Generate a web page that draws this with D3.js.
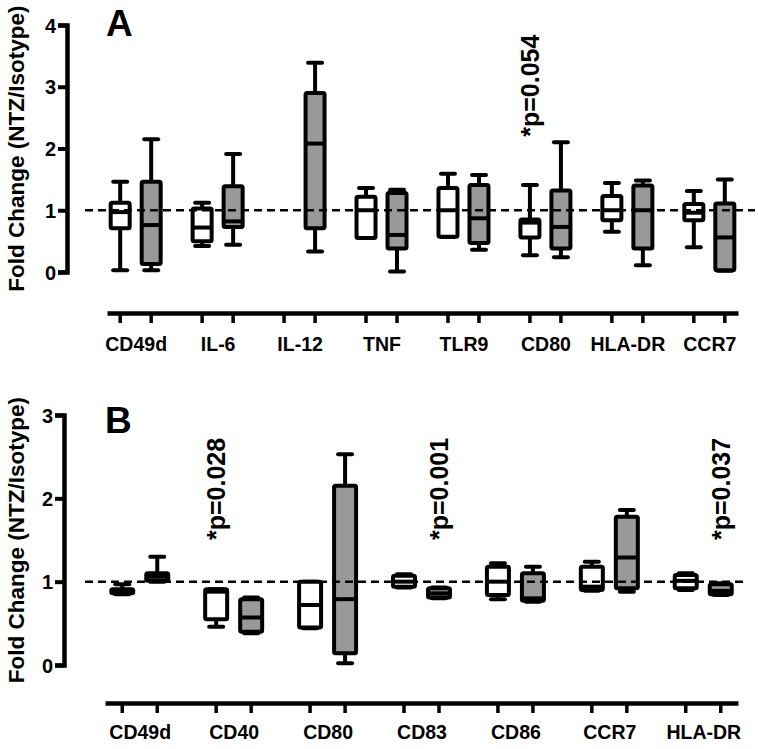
<!DOCTYPE html>
<html><head><meta charset="utf-8">
<script src="https://cdn.jsdelivr.net/npm/d3@7"></script>
<style>
html,body{margin:0;padding:0;background:#fff;}
svg text{font-family:"Liberation Sans",Arial,sans-serif;font-weight:bold;fill:#000;}
</style></head>
<body><svg id="c" width="758" height="749"></svg>
<script>
// ---------- DATA ----------
// five-number summaries: [min, q1, median, q3, max]
const categoriesA = ["CD49d","IL-6","IL-12","TNF","TLR9","CD80","HLA-DR","CCR7"];
const isotypeA = [
  [0.03,0.71,0.97,1.12,1.46],
  [0.42,0.50,0.72,1.03,1.12],
  null,
  [0.55,0.55,1.00,1.22,1.36],
  [0.57,0.57,1.00,1.36,1.59],
  [0.27,0.56,0.80,0.85,1.41],
  [0.65,0.84,1.00,1.23,1.44],
  [0.40,0.84,0.96,1.10,1.31]
];
const ntzA = [
  [0.03,0.13,0.76,1.46,2.15],
  [0.44,0.73,0.82,1.39,1.91],
  [0.33,0.71,2.08,2.90,3.39],
  [0.01,0.38,0.60,1.28,1.33],
  [0.36,0.47,0.87,1.41,1.57],
  [0.24,0.38,0.73,1.32,2.10],
  [0.11,0.38,1.00,1.40,1.48],
  [0.02,0.03,0.56,1.11,1.50]
];
const yTicksA = [0,1,2,3,4];
const annotA = [{cat:"CD80", series:0, y:2.19, text:"*p=0.054"}];

const categoriesB = ["CD49d","CD40","CD80","CD83","CD86","CCR7","HLA-DR"];
const isotypeB = [
  [0.85,0.86,0.88,0.91,0.97],
  [0.46,0.55,0.88,0.91,0.91],
  [0.44,0.45,0.72,1.00,1.00],
  [0.93,0.94,1.00,1.07,1.09],
  [0.79,0.84,1.00,1.18,1.22],
  [0.89,0.90,0.94,1.18,1.24],
  [0.90,0.92,1.01,1.08,1.10]
];
const ntzB = [
  [1.00,1.01,1.06,1.10,1.30],
  [0.38,0.40,0.57,0.79,0.81],
  [0.02,0.14,0.79,2.15,2.53],
  [0.80,0.81,0.86,0.92,0.93],
  [0.76,0.77,0.80,1.10,1.18],
  [0.88,0.92,1.29,1.78,1.86],
  [0.84,0.85,0.89,0.97,0.98]
];
const yTicksB = [0,1,2,3];
const annotB = [
  {cat:"CD40", series:0, y:1.5, text:"*p=0.028"},
  {cat:"CD83", series:1, y:1.5, text:"*p=0.001"},
  {cat:"HLA-DR", series:1, y:1.5, text:"*p=0.037"}
];
const seriesFill = ["#ffffff","#999999"];
const refValue = 1;
const yTitle = "Fold Change (NTZ/Isotype)";

// ---------- DRAW ----------
const svg = d3.select("#c");

function panel(o){
  const g = svg.append("g");
  const y = d3.scaleLinear().domain(o.yDomain).range(o.yRange);
  const x = d3.scalePoint().domain(o.cats).range(o.xRange).padding(o.pad);
  const xs = d3.scalePoint().domain([0,1]).range([-o.off, o.off]);
  const bw = o.bw, cap = 14, sw = 4;

  // y axis
  const ya = g.append("g").attr("transform",`translate(${o.yAxisX},0)`)
    .call(d3.axisLeft(y).tickValues(o.yTicks).tickFormat(d3.format("d")).tickSizeOuter(0).tickSize(9).tickPadding(2));
  ya.select(".domain").attr("stroke-width",4.5).attr("stroke","#000");
  ya.selectAll(".tick line").attr("stroke-width",4).attr("stroke","#000");
  ya.selectAll(".tick text").style("font-size","20px").attr("dy","0.36em");

  // y title
  g.append("text").attr("transform",`translate(${o.titleX},${(o.yRange[0]+o.yRange[1])/2}) rotate(-90)`)
    .attr("text-anchor","middle").attr("dominant-baseline","central")
    .style("font-size","22.5px").text(yTitle);

  // panel letter
  g.append("text").attr("x",o.letterX).attr("y",o.letterY).style("font-size","37px").text(o.letter);

  // x axis (labels + line)
  const xa = g.append("g").attr("transform",`translate(0,${o.xAxisY})`)
    .call(d3.axisBottom(x).tickSize(0).tickSizeOuter(0).tickPadding(o.labelPad));
  xa.select(".domain").attr("stroke-width",4.5).attr("stroke","#000");
  xa.selectAll(".tick text").style("font-size","19.5px");
  // pair ticks
  const tickPos = [];
  o.cats.forEach(c=>[0,1].forEach(s=>tickPos.push(x(c)+xs(s))));
  g.append("g").selectAll("line").data(tickPos).join("line")
    .attr("x1",d=>d).attr("x2",d=>d).attr("y1",o.xAxisY).attr("y2",o.xAxisY+10)
    .attr("stroke","#000").attr("stroke-width",3.5);

  // boxes
  const items = [];
  o.cats.forEach((c,i)=>{
    [o.s0[i],o.s1[i]].forEach((v,s)=>{ if(v) items.push({c,s,v}); });
  });
  const bg = g.append("g").selectAll("g").data(items).join("g")
    .attr("transform",d=>`translate(${x(d.c)+xs(d.s)},0)`);
  // whiskers
  bg.append("line").attr("x1",0).attr("x2",0).attr("y1",d=>y(d.v[3])).attr("y2",d=>y(d.v[4]))
    .attr("stroke","#000").attr("stroke-width",sw);
  bg.append("line").attr("x1",0).attr("x2",0).attr("y1",d=>y(d.v[1])).attr("y2",d=>y(d.v[0]))
    .attr("stroke","#000").attr("stroke-width",sw);
  bg.append("line").attr("x1",-cap/2).attr("x2",cap/2).attr("y1",d=>y(d.v[4])).attr("y2",d=>y(d.v[4]))
    .attr("stroke","#000").attr("stroke-width",sw).attr("stroke-linecap","round");
  bg.append("line").attr("x1",-cap/2).attr("x2",cap/2).attr("y1",d=>y(d.v[0])).attr("y2",d=>y(d.v[0]))
    .attr("stroke","#000").attr("stroke-width",sw).attr("stroke-linecap","round");
  // box
  bg.append("rect").attr("x",-bw/2).attr("width",bw)
    .attr("y",d=>y(d.v[3])).attr("height",d=>Math.max(0.5,y(d.v[1])-y(d.v[3])))
    .attr("rx",1.5)
    .attr("fill",d=>seriesFill[d.s]).attr("stroke","#000").attr("stroke-width",sw).attr("stroke-linejoin","round");
  bg.append("line").attr("x1",-bw/2).attr("x2",bw/2).attr("y1",d=>y(d.v[2])).attr("y2",d=>y(d.v[2]))
    .attr("stroke","#000").attr("stroke-width",sw);

  // reference dashed line
  g.append("line").attr("x1",o.dashX[0]).attr("x2",o.dashX[1]).attr("y1",y(refValue)).attr("y2",y(refValue))
    .attr("stroke","#000").attr("stroke-width",2.5).attr("stroke-dasharray","8,5");

  // annotations
  g.append("g").selectAll("text").data(o.annot).join("text")
    .attr("transform",d=>`translate(${x(d.cat)+xs(d.series)},${y(d.y)}) rotate(-90)`)
    .attr("text-anchor","start").attr("dominant-baseline","central")
    .style("font-size","25px").text(d=>d.text);
}

panel({cats:categoriesA, s0:isotypeA, s1:ntzA, yDomain:[0,4], yRange:[272,25], yTicks:yTicksA,
  xRange:[107,738], pad:0.35, off:15.5, bw:19, yAxisX:67, titleX:16, letter:"A", letterX:106, letterY:36,
  xAxisY:313, labelPad:24, dashX:[85,755], annot:annotA});
panel({cats:categoriesB, s0:isotypeB, s1:ntzB, yDomain:[0,3], yRange:[665,415], yTicks:yTicksB,
  xRange:[105,738], pad:0.37, off:17.5, bw:22, yAxisX:64, titleX:16, letter:"B", letterX:105, letterY:433,
  xAxisY:703, labelPad:22, dashX:[85,745], annot:annotB});
</script></body></html>
